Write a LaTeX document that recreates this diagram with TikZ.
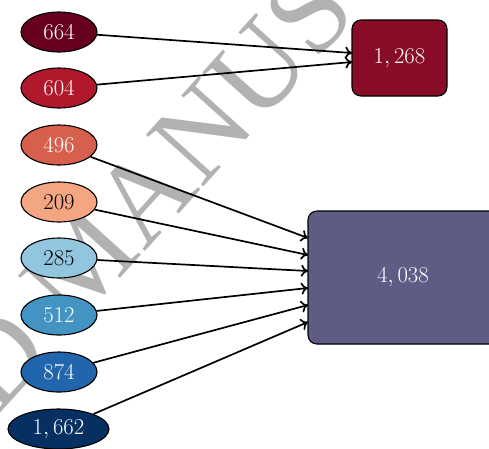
\RequirePackage{fix-cm}
\documentclass[tikz,border=0pt]{standalone}
\usepackage{fontspec}
\newfontfamily\wmfont{Liberation Serif}
\usetikzlibrary{shapes.geometric,arrows.meta}

\definecolor{rd1}{HTML}{67001F}
\definecolor{rd2}{HTML}{B2182B}
\definecolor{rd3}{HTML}{D6604D}
\definecolor{rd4}{HTML}{F4A582}
\definecolor{bu4}{HTML}{92C5DE}
\definecolor{bu3}{HTML}{4393C3}
\definecolor{bu2}{HTML}{2166AC}
\definecolor{bu1}{HTML}{053061}
\definecolor{redbox}{HTML}{880C25}
\definecolor{purplebox}{HTML}{5E5C85}

\tikzset{
  src/.style={ellipse, draw=black, line width=1.1pt, inner sep=0pt,
    minimum width=76pt, minimum height=40pt,
    font=\fontsize{22.7}{27}\selectfont},
  sink/.style={rectangle, rounded corners=9pt, draw=black, line width=1.1pt,
    inner sep=0pt, text=white, font=\fontsize{22.7}{27}\selectfont},
  flow/.style={line width=1.7pt, -{To[length=7pt,width=12pt]}},
  watermark/.style={text=black!30, font=\wmfont\fontsize{118}{120}\selectfont}
}

\begin{document}
\begin{tikzpicture}[x=1pt,y=-1pt]
\useasboundingbox (0,0) rectangle (489,448);

% background stamp
\node[watermark, rotate=48] (stamp) at (86,260) {ACCEPTED MANUSCRIPT};

% source values
\node[src, fill=rd1, text=white] (e1) at (59,32)  {$664$};
\node[src, fill=rd2, text=white] (e2) at (59,88)  {$604$};
\node[src, fill=rd3, text=white] (e3) at (59,145) {$496$};
\node[src, fill=rd4, text=black] (e4) at (59,202) {$209$};
\node[src, fill=bu4, text=black] (e5) at (59,258) {$285$};
\node[src, fill=bu3, text=white] (e6) at (59,315) {$512$};
\node[src, fill=bu2, text=white] (e7) at (59,372) {$874$};
\node[src, fill=bu1, text=white, minimum width=101pt] (e8) at (58.5,429) {$1,662$};

% totals
\node[sink, fill=redbox, minimum width=95pt, minimum height=76pt] (t1) at (399.5,58) {$1,268$};
\node[sink, fill=purplebox, minimum width=190pt, minimum height=133pt] (t2) at (403,277.5) {$4,038$};

% arrow targets on the left sides of the totals
\coordinate (p1) at (352,53);
\coordinate (p2) at (352,62);
\coordinate (q1) at (308,238);
\coordinate (q2) at (308,255);
\coordinate (q3) at (308,271);
\coordinate (q4) at (308,288);
\coordinate (q5) at (308,305);
\coordinate (q6) at (308,322);

\draw[flow] (e1) -- (p1);
\draw[flow] (e2) -- (p2);
\draw[flow] (e3) -- (q1);
\draw[flow] (e4) -- (q2);
\draw[flow] (e5) -- (q3);
\draw[flow] (e6) -- (q4);
\draw[flow] (e7) -- (q5);
\draw[flow] (e8) -- (q6);
\end{tikzpicture}
\end{document}
